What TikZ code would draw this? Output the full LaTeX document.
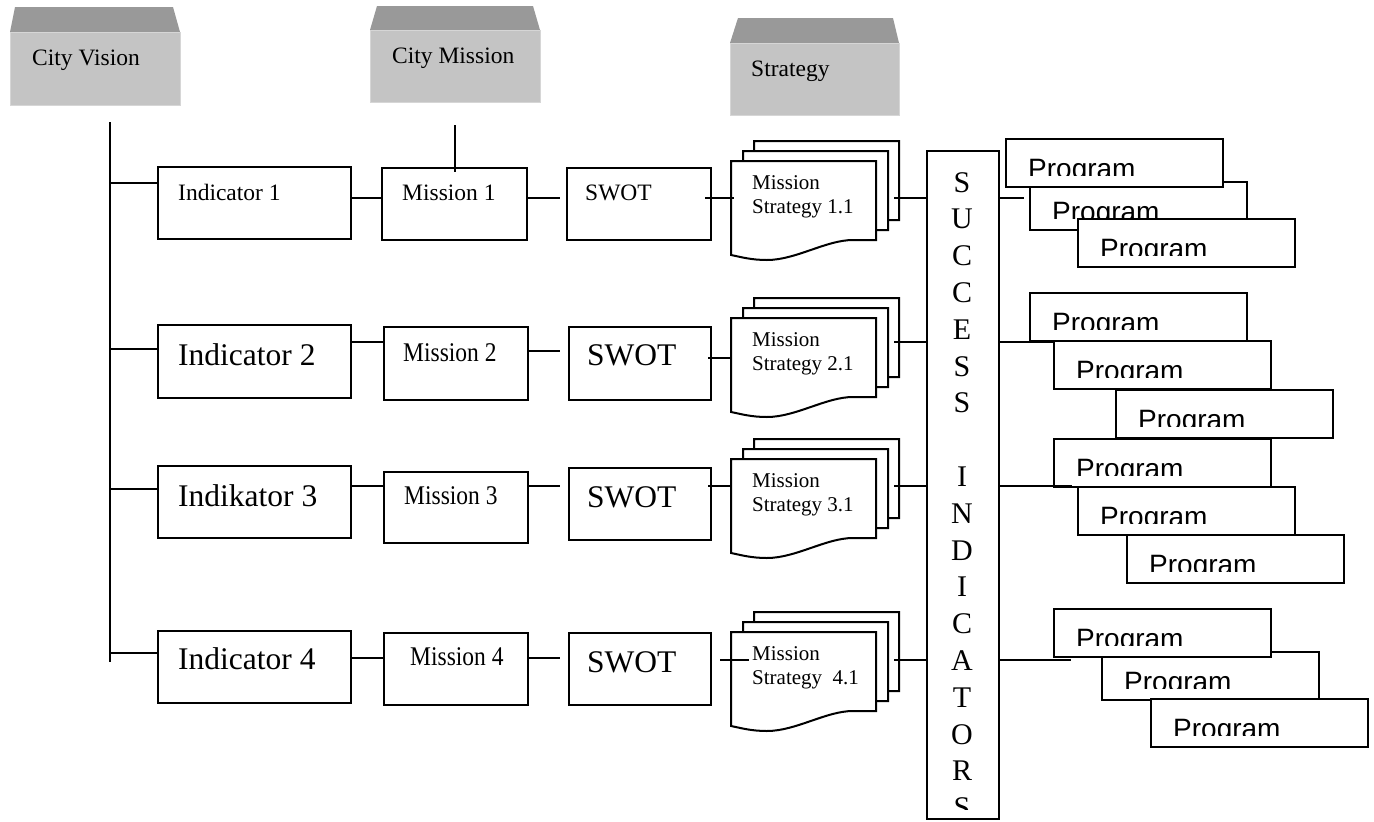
\documentclass[tikz,border=0pt]{standalone}
\usepackage{fontspec}
\setmainfont{Liberation Serif}
\newfontfamily\progfont{Liberation Sans}
\usepackage{graphicx}
\usetikzlibrary{calc}
\definecolor{topc}{HTML}{999999}
\definecolor{frontc}{HTML}{C4C4C4}
\definecolor{edgec}{HTML}{D6D6D6}
\newcommand{\rbox}[5]{\node[bx, minimum width={#4-#2}, minimum height={#5-#3}] (#1) at (#2,#3) {};}
\newcommand{\prg}[3]{%
  \node[bx, line width=2.2pt, minimum width=217, minimum height=48] (#1) at (#2,#3) {};
  \begin{scope}\clip (#2,#3) rectangle ++(217,37);
    \node[txtp] (#1t) at ({#2+23},{#3+40}) {Program};
  \end{scope}}
\begin{document}
\begin{tikzpicture}[x=1pt,y=-1pt,
  bx/.style={draw, line width=2pt, fill=white, inner sep=0pt, anchor=north west},
  conn/.style={line width=2pt},
  txts/.style={font=\fontsize{23.5}{28}\selectfont, anchor=base west, inner sep=0pt},
  txtl/.style={font=\fontsize{31.5}{36}\selectfont, anchor=base west, inner sep=0pt},
  txtm/.style={font=\fontsize{27}{32}\selectfont, anchor=base west, inner sep=0pt},
  txtd/.style={font=\fontsize{21}{24}\selectfont, anchor=base west, inner sep=0pt},
  txtp/.style={font=\progfont\fontsize{28}{32}\selectfont, anchor=base west, inner sep=0pt},
  txtsi/.style={font=\fontsize{30}{34}\selectfont, anchor=base, inner sep=0pt},
  front/.style={fill=frontc, draw=edgec, line width=1pt, inner sep=0pt, anchor=north west},
  mdoc/.pic={
    \foreach \dx/\dy in {23/-20,12/-10,0/0}{
      \path[draw, line width=2pt, fill=white, shift={(\dx,\dy)}]
        (0,0) -- (145,0) -- (145,79) -- (122,79)
        .. controls (95,79) and (65,99) .. (36,99)
        .. controls (20,99) and (10,96) .. (0,94) -- cycle;
    }
    \node[inner sep=0pt, minimum width=145, minimum height=94, anchor=north west] (-page) at (0,0) {};
  }
]
\useasboundingbox (0,0) rectangle (1374,822);
\fill[white] (0,0) rectangle (1374,822);

% ---- top boxes ----
\fill[topc] (10,32) -- (15,7) -- (173,7) -- (180,32) -- cycle;
\node[front, minimum width=170, minimum height=73] (cv) at (10,32) {};
\node[txts] (cvt) at (32,65) {City Vision};

\fill[topc] (370,30) -- (377,6) -- (533,6) -- (540,30) -- cycle;
\node[front, minimum width=170, minimum height=72] (cm) at (370,30) {};
\node[txts] (cmt) at (392,63) {City Mission};

\fill[topc] (730,43) -- (738,18) -- (893,18) -- (899,43) -- cycle;
\node[front, minimum width=169, minimum height=72] (st) at (730,43) {};
\node[txts] (stt) at (751,76) {Strategy};

% ---- row boxes ----
\rbox{ind1}{157}{166}{350}{238}
\rbox{mis1}{381}{167}{526}{239}
\rbox{swot1}{566}{167}{710}{239}
\node[txts] (ind1t) at (178,200) {Indicator 1};
\node[txts] (mis1t) at (402,200) {Mission 1};
\node[txts] (swot1t) at (585,200) {SWOT};

\rbox{ind2}{157}{324}{350}{397}
\rbox{mis2}{383}{326}{527}{399}
\rbox{swot2}{568}{326}{710}{399}
\node[txtl] (ind2t) at (178,365) {Indicator 2};
\node[txtm] (mis2t) at (403,361) {\scalebox{0.87}[1]{Mission 2}};
\node[txtl] (swot2t) at (587,365) {SWOT};

\rbox{ind3}{157}{465}{350}{537}
\rbox{mis3}{383}{471}{527}{542}
\rbox{swot3}{568}{467}{710}{539}
\node[txtl] (ind3t) at (178,506) {Indikator 3};
\node[txtm] (mis3t) at (404,504) {\scalebox{0.87}[1]{Mission 3}};
\node[txtl] (swot3t) at (587,507) {SWOT};

\rbox{ind4}{157}{630}{350}{702}
\rbox{mis4}{383}{632}{527}{704}
\rbox{swot4}{568}{632}{710}{704}
\node[txtl] (ind4t) at (178,669) {Indicator 4};
\node[txtm] (mis4t) at (410,665) {\scalebox{0.87}[1]{Mission 4}};
\node[txtl] (swot4t) at (587,672) {SWOT};

% ---- mission strategy documents ----
\pic (d1) at (731,161) {mdoc};
\pic (d2) at (731,318) {mdoc};
\pic (d3) at (731,459) {mdoc};
\pic (d4) at (731,632) {mdoc};
\node[txtd] (d1a) at (752,189) {Mission};
\node[txtd] (d1b) at (752,213) {Strategy 1.1};
\node[txtd] (d2a) at (752,346) {Mission};
\node[txtd] (d2b) at (752,370) {Strategy 2.1};
\node[txtd] (d3a) at (752,487) {Mission};
\node[txtd] (d3b) at (752,511) {Strategy 3.1};
\node[txtd] (d4a) at (752,660) {Mission};
\node[txtd] (d4b) at (752,684) {Strategy~ 4.1};

% ---- success indicators ----
\node[bx, minimum width=72, minimum height=668] (succ) at (926,150) {};
\begin{scope}
  \clip (926,150) rectangle (998,809);
  \foreach \ch [count=\i from 0] in {S,U,C,C,E,S,S}
    {\node[txtsi] (sl\i) at (962,{192+36.8*\i}) {\ch};}
  \foreach \ch [count=\i from 8] in {I,N,D,I,C,A,T,O,R,S}
    {\node[txtsi] (sl\i) at (962,{192+36.8*\i}) {\ch};}
\end{scope}

% ---- programs ----
\prg{p1b}{1029}{181}
\prg{p1a}{1005}{138}
\prg{p1c}{1077}{218}

\prg{p2b}{1053}{340}
\prg{p2a}{1029}{292}
\prg{p2c}{1115}{389}

\prg{p3b}{1077}{486}
\prg{p3a}{1053}{438}
\prg{p3c}{1126}{534}

\prg{p4b}{1101}{651}
\prg{p4a}{1053}{608}
\prg{p4c}{1150}{698}

% ---- connectors ----
\coordinate (cvl1) at (110,122);
\coordinate (cvl2) at (110,662);
\draw[conn] (cvl1) -- (cvl2);
\draw[conn] (cvl1 |- 0,183) -- (ind1.west |- 0,183);
\draw[conn] (cvl1 |- 0,349) -- (ind2.west |- 0,349);
\draw[conn] (cvl1 |- 0,489) -- (ind3.west |- 0,489);
\draw[conn] (cvl1 |- 0,653) -- (ind4.west |- 0,653);

\coordinate (cml) at (455,125);
\draw[conn] (cml) -- ($(cml |- mis1.north)+(0,5)$);

% row 1
\draw[conn] (ind1.east |- 0,198) -- (mis1.west |- 0,198);
\draw[conn] (mis1.east |- 0,198) -- ++(32,0);
\draw[conn] (swot1.east |- 0,198) ++(-7,0) -- (d1-page.west |- 0,198) -- ++(3,0);
\draw[conn] (d1-page.east |- 0,198) ++(18,0) -- (succ.west |- 0,198);
\draw[conn] (succ.east |- 0,198) -- ++(24,0);
% row 2
\draw[conn] (ind2.east |- 0,342) -- (mis2.west |- 0,342);
\draw[conn] (mis2.east |- 0,351) -- ++(31,0);
\draw[conn] (swot2.east |- 0,358) ++(-4,0) -- (d2-page.west |- 0,358);
\draw[conn] (d2-page.east |- 0,342) ++(18,0) -- (succ.west |- 0,342);
\draw[conn] (succ.east |- 0,342) -- (p2b.west |- 0,342);
% row 3
\draw[conn] (ind3.east |- 0,486) -- (mis3.west |- 0,486);
\draw[conn] (mis3.east |- 0,486) -- ++(31,0);
\draw[conn] (swot3.east |- 0,486) ++(-4,0) -- (d3-page.west |- 0,486);
\draw[conn] (d3-page.east |- 0,486) ++(18,0) -- (succ.west |- 0,486);
\draw[conn] (succ.east |- 0,486) -- ++(72,0);
% row 4
\draw[conn] (ind4.east |- 0,658) -- (mis4.west |- 0,658);
\draw[conn] (mis4.east |- 0,658) -- ++(31,0);
\draw[conn] (swot4.east |- 0,660) ++(8,0) -- (d4-page.west |- 0,660) -- ++(18,0);
\draw[conn] (d4-page.east |- 0,660) ++(18,0) -- (succ.west |- 0,660);
\draw[conn] (succ.east |- 0,660) -- ++(71,0);
\end{tikzpicture}
\end{document}
